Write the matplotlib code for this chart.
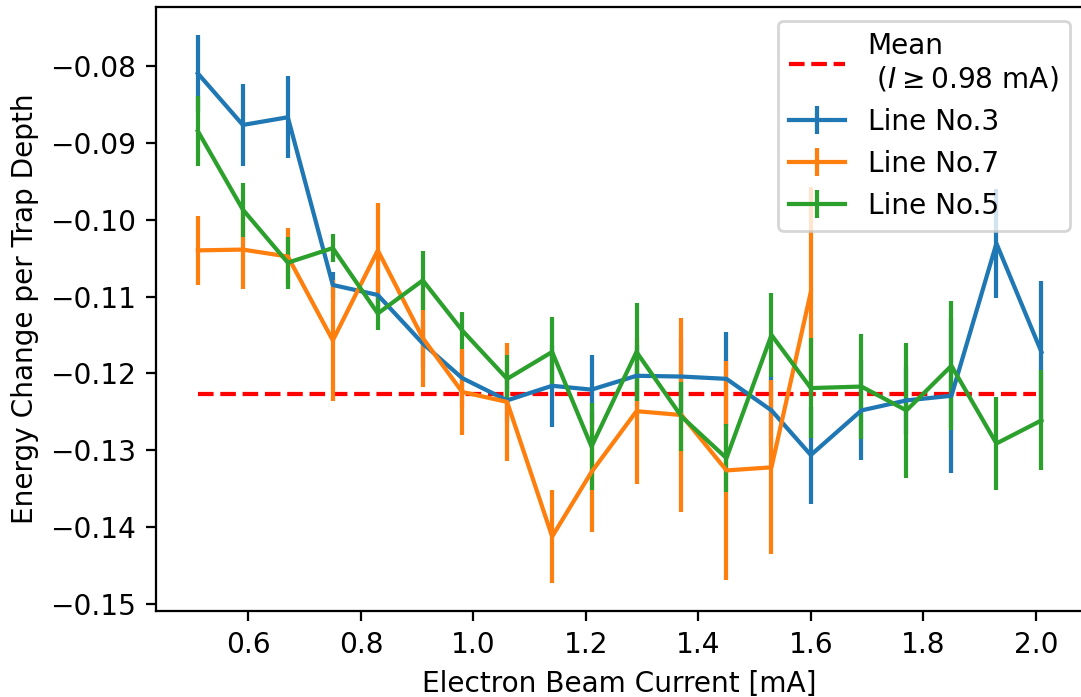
import matplotlib
matplotlib.use("Agg")
import matplotlib.pyplot as plt

# ---- data ----
current = [0.51, 0.59, 0.67, 0.75, 0.83, 0.91, 0.98, 1.06, 1.14, 1.21,
           1.29, 1.37, 1.45, 1.53, 1.60, 1.69, 1.77, 1.85, 1.93, 2.01]

line3_y = [-0.0810, -0.0877, -0.0867, -0.1085, -0.1098, -0.1161, -0.1206, -0.1235, -0.1216, -0.1221,
           -0.1203, -0.1204, -0.1207, -0.1248, -0.1306, -0.1248, -0.1235, -0.1229, -0.1031, -0.1172]
line3_err = [0.0050, 0.0053, 0.0053, 0.0017, 0.0020, 0.0030, 0.0037, 0.0029, 0.0053, 0.0045,
             0.0040, 0.0050, 0.0061, 0.0045, 0.0063, 0.0065, 0.0044, 0.0101, 0.0071, 0.0092]

line7_x = current[:15]
line7_y = [-0.1040, -0.1039, -0.1048, -0.1157, -0.1040, -0.1154, -0.1224, -0.1237, -0.1412, -0.1328,
           -0.1249, -0.1254, -0.1326, -0.1322, -0.1094]
line7_err = [0.0045, 0.0051, 0.0037, 0.0079, 0.0062, 0.0063, 0.0056, 0.0077, 0.0060, 0.0078,
             0.0095, 0.0126, 0.0142, 0.0113, 0.0137]

line5_y = [-0.0885, -0.0987, -0.1056, -0.1037, -0.1122, -0.1079, -0.1144, -0.1207, -0.1172, -0.1295,
           -0.1172, -0.1256, -0.1310, -0.1150, -0.1219, -0.1217, -0.1248, -0.1190, -0.1291, -0.1261]
line5_err = [0.0045, 0.0035, 0.0034, 0.0018, 0.0021, 0.0038, 0.0024, 0.0031, 0.0045, 0.0057,
             0.0064, 0.0045, 0.0044, 0.0055, 0.0065, 0.0068, 0.0088, 0.0084, 0.0061, 0.0065]

mean_x = [0.51, 2.00]
mean_value = -0.1227

# ---- figure ----
DPI = 202
fig = plt.figure(figsize=(1081 / DPI, 697 / DPI), dpi=DPI)
ax = fig.add_axes([0.1440, 0.1234, 1.0024 - 0.1440, 0.9904 - 0.1234])

ax.plot(mean_x, [mean_value, mean_value], 'r--', lw=1.5,
        label='Mean\n ($I \\geq 0.98$ mA)')
ax.errorbar(current, line3_y, yerr=line3_err, color='C0', lw=1.5, label='Line No.3')
ax.errorbar(line7_x, line7_y, yerr=line7_err, color='C1', lw=1.5, label='Line No.7')
ax.errorbar(current, line5_y, yerr=line5_err, color='C2', lw=1.5, label='Line No.5')

ax.set_xlim(0.435, 2.085)
ax.set_ylim(-0.15087, -0.07233)
ax.set_xticks([0.6, 0.8, 1.0, 1.2, 1.4, 1.6, 1.8, 2.0])
ax.set_yticks([-0.08, -0.09, -0.10, -0.11, -0.12, -0.13, -0.14, -0.15])

ax.set_xlabel('Electron Beam Current [mA]')
ax.set_ylabel('Energy Change per Trap Depth')
ax.legend(loc='upper right')

fig.savefig('out.png', dpi=DPI)
